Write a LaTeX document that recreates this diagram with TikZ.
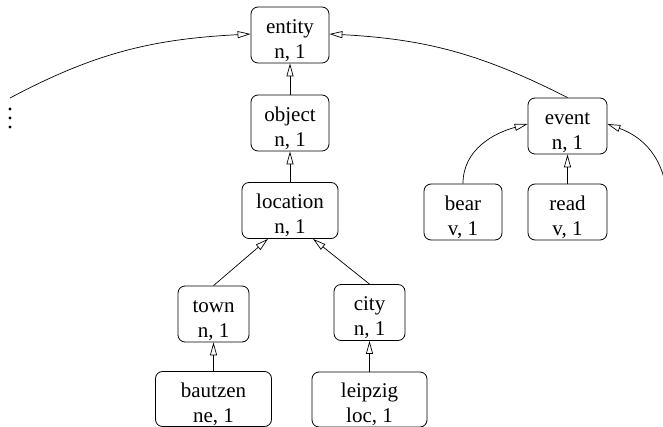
\documentclass[tikz,border=0pt]{standalone}
\usepackage{fontspec}
\setmainfont{Liberation Serif}
\usetikzlibrary{arrows.meta}
\newcommand\tstrut{\rule{0pt}{25pt}}
\begin{document}
\begin{tikzpicture}[x=1pt,y=1pt,
  box/.style={draw, rounded corners=7pt, line width=0.8pt, minimum height=56pt,
    inner sep=0pt, align=center, font=\fontsize{21}{25}\selectfont},
  isa/.style={line width=0.7pt, -{Triangle[open,length=13pt,width=7pt,line width=0.7pt]}}]
\useasboundingbox (0,0) rectangle (663,-427);
\node[box, minimum width=78pt] (entity) at (290,-35) {\tstrut entity\\n, 1};
\node[box, minimum width=78pt] (object) at (290,-123) {\tstrut object\\n, 1};
\node[box, minimum width=96pt] (location) at (290,-210.5) {\tstrut location\\n, 1};
\node[box, minimum width=71pt] (town) at (213.5,-314) {\tstrut town\\n, 1};
\node[box, minimum width=71pt] (city) at (369.5,-312.5) {\tstrut city\\n, 1};
\node[box, minimum width=116pt, minimum height=55pt] (bautzen) at (213.5,-399) {\tstrut bautzen\\ne, 1};
\node[box, minimum width=115pt, minimum height=55pt] (leipzig) at (369.5,-399.5) {\tstrut leipzig\\loc, 1};
\node[box, minimum width=79pt] (event) at (567.5,-126) {\tstrut event\\n, 1};
\node[box, minimum width=78pt] (bear) at (463,-212) {\tstrut bear\\v, 1};
\node[box, minimum width=79pt] (read) at (567.5,-212) {\tstrut read\\v, 1};
\coordinate (lstart) at (10,-98);
\coordinate (rstart) at (664,-178);
\foreach \yy in {109,118,127} \fill (10,-\yy) circle (1.7pt);
\draw[isa] (object) -- (entity);
\draw[isa] (location) -- (object);
\draw[isa] (town.north) -- ([xshift=-22pt]location.south);
\draw[isa] (city.north) -- ([xshift=23pt]location.south);
\draw[isa] (bautzen) -- (town);
\draw[isa] (leipzig) -- (city);
\draw[isa] (read) -- (event);
\draw[isa] (bear.north) to[out=90,in=195] ([yshift=2pt]event.west);
\draw[isa] (rstart) to[out=105,in=-20] ([yshift=2pt]event.east);
\draw[isa] (event.north) to[out=153,in=-3] ([yshift=1pt]entity.east);
\draw[isa] (lstart) to[out=28,in=183] ([yshift=1pt]entity.west);
\end{tikzpicture}
\end{document}
